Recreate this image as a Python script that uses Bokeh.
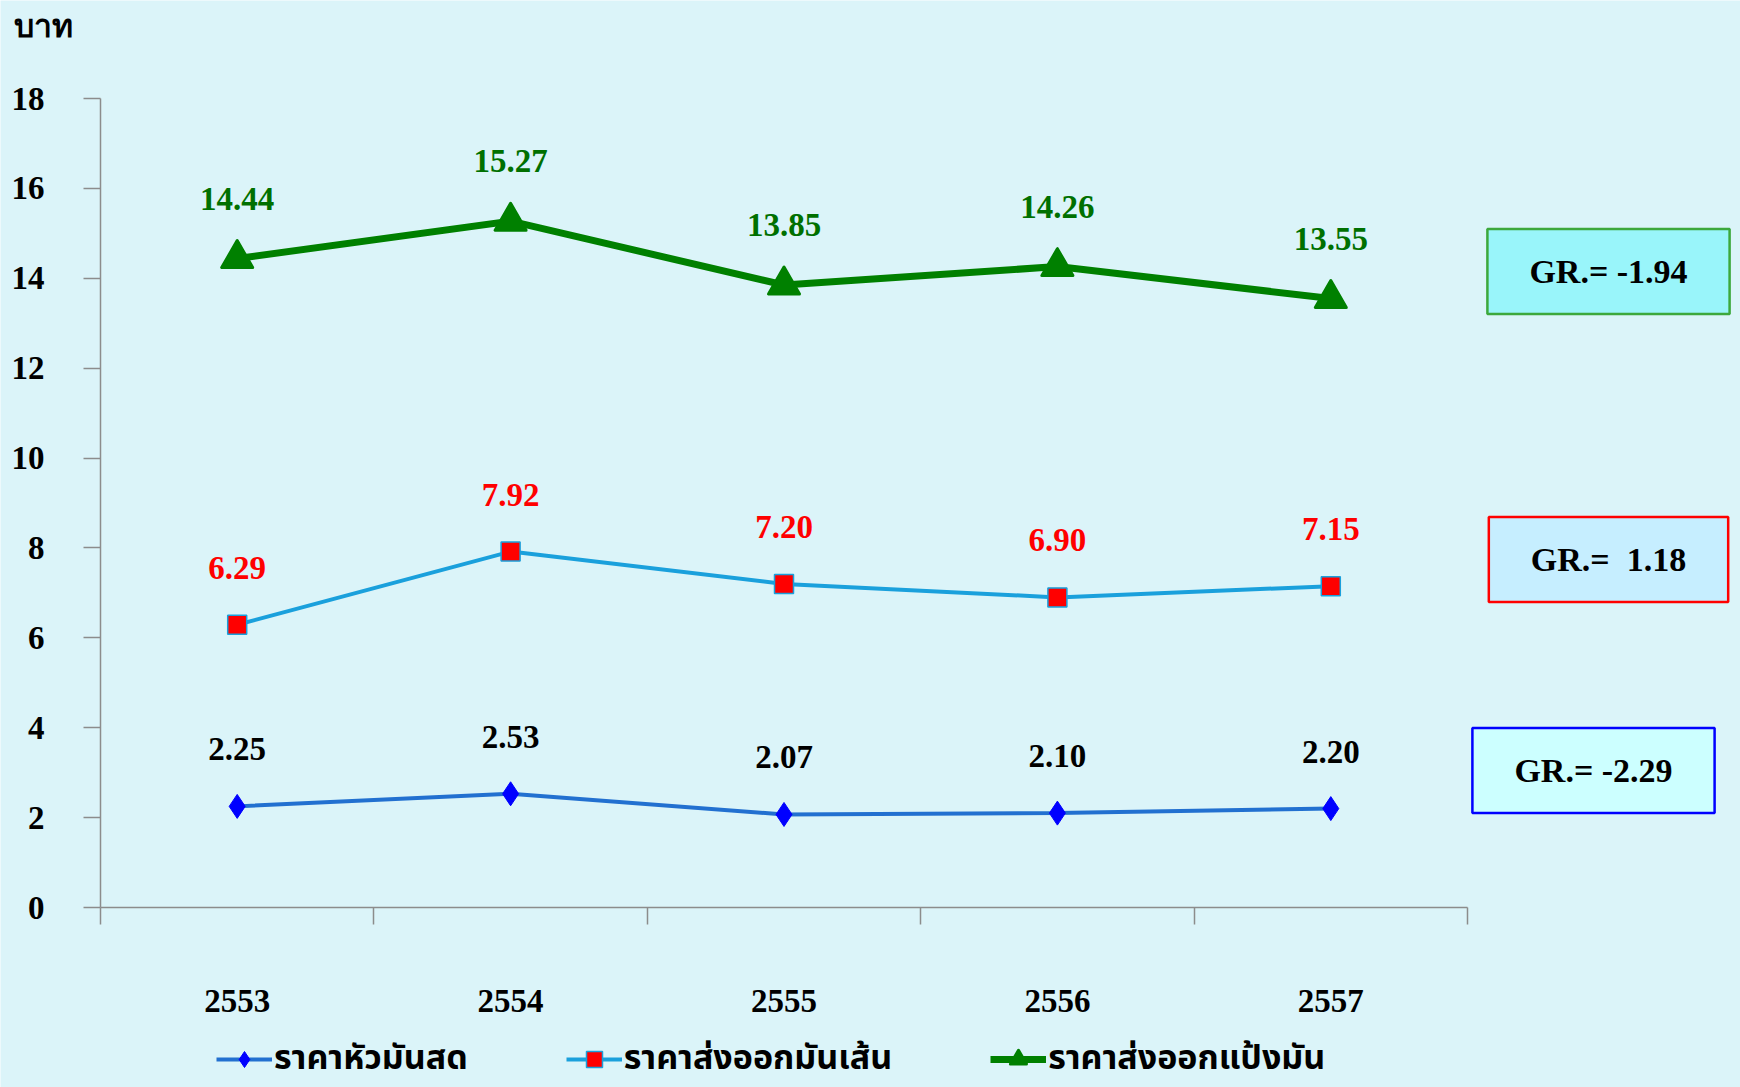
from bokeh.plotting import figure
from bokeh.models import (Range1d, LinearAxis, FixedTicker,
                          ColumnDataSource, Label, Legend, LegendItem)
from bokeh.core.properties import value
from bokeh.embed import file_html
from bokeh.resources import INLINE

# ---------------- data ----------------
years = ["2553", "2554", "2555", "2556", "2557"]
fresh_price = [2.25, 2.53, 2.07, 2.10, 2.20]      # ราคาหัวมันสด
chips_price = [6.29, 7.92, 7.20, 6.90, 7.15]      # ราคาส่งออกมันเส้น
starch_price = [14.44, 15.27, 13.85, 14.26, 13.55]  # ราคาส่งออกแป้งมัน
series_names = ["ราคาหัวมันสด", "ราคาส่งออกมันเส้น", "ราคาส่งออกแป้งมัน"]
gr_fresh = "GR.= -2.29"
gr_chips = "GR.=\u00a0 1.18"
gr_starch = "GR.= -1.94"
y_ticks = [0, 2, 4, 6, 8, 10, 12, 14, 16, 18]
y_unit = "บาท"

BG = "#DBF4F9"
AXIS = "#8C8C8C"
SERIF = "Liberation Serif"
THAI = "'Noto Sans Thai', 'Noto Sans', 'DejaVu Sans', sans-serif"

W, H = 1740, 1087
# plot-area geometry (pixels): axes cross at (100, 907); one year slot = 273.4 px; 18 baht = 809 px
AX_X, AX_Y, SLOT_PX, UNIT_PX = 100, 907, 273.4, 809 / 18

n = len(years)
centers = [i + 0.5 for i in range(n)]
edges = list(range(n + 1))

p = figure(width=W, height=H,
           x_range=Range1d(-AX_X / SLOT_PX, (W - AX_X) / SLOT_PX),
           y_range=Range1d(-(H - AX_Y) / UNIT_PX, AX_Y / UNIT_PX),
           output_backend="svg", toolbar_location=None,
           x_axis_location=None, y_axis_location=None,
           background_fill_color=BG, border_fill_color=BG, outline_line_color=None,
           min_border=0)
p.xgrid.visible = False
p.ygrid.visible = False

# y axis (fixed at x = 0)
yax = LinearAxis(ticker=FixedTicker(ticks=y_ticks, minor_ticks=[]), bounds=(0, 18),
                 fixed_location=0,
                 axis_line_color=AXIS, axis_line_width=1.5,
                 major_tick_line_color=AXIS, major_tick_line_width=1.5,
                 major_tick_in=0, major_tick_out=17, minor_tick_line_color=None,
                 major_label_standoff=39,
                 major_label_text_font=SERIF, major_label_text_font_style="bold",
                 major_label_text_font_size="33px", major_label_text_color="black")
p.add_layout(yax, "left")

# x axis (fixed at y = 0): labels at slot centres, tick marks at slot boundaries
xax = LinearAxis(ticker=FixedTicker(ticks=centers, minor_ticks=edges), bounds=(0, n),
                 fixed_location=0,
                 major_label_overrides={c: y for c, y in zip(centers, years)},
                 axis_line_color=AXIS, axis_line_width=1.5,
                 major_tick_line_color=None, major_tick_in=0, major_tick_out=0,
                 minor_tick_line_color=AXIS, minor_tick_line_width=1.5,
                 minor_tick_in=0, minor_tick_out=17,
                 major_label_standoff=65,
                 major_label_text_font=SERIF, major_label_text_font_style="bold",
                 major_label_text_font_size="33px", major_label_text_color="black")
p.add_layout(xax, "below")

src = ColumnDataSource(dict(
    x=centers, fresh=fresh_price, chips=chips_price, starch=starch_price,
    fresh_lbl=[f"{v:.2f}" for v in fresh_price],
    chips_lbl=[f"{v:.2f}" for v in chips_price],
    starch_lbl=[f"{v:.2f}" for v in starch_price],
))

l1 = p.line("x", "fresh", source=src, line_color="#2270D0", line_width=4)
s1 = p.scatter("x", "fresh", source=src, marker="diamond", size=24,
               fill_color="#0000FF", line_color="#0000FF")
l2 = p.line("x", "chips", source=src, line_color="#1AA0DC", line_width=4)
s2 = p.scatter("x", "chips", source=src, marker="square", size=19,
               fill_color="#FF0000", line_color="#1AA0DC", line_width=1.5)
l3 = p.line("x", "starch", source=src, line_color="#008000", line_width=7)
s3 = p.scatter("x", "starch", source=src, marker="triangle", size=31,
               fill_color="#008000", line_color="#008000", line_width=3, line_join="round")

for col, color, off in (("fresh", "black", -57), ("chips", "#FF0000", -57), ("starch", "#007000", -60)):
    p.text(x="x", y=col, text=col + "_lbl", source=src,
           text_align="center", text_baseline="middle", y_offset=off,
           text_font=value(SERIF), text_font_style="bold", text_font_size="33px",
           text_color=color)

# unit label (screen units from the bottom-left corner)
p.add_layout(Label(x=13, y=H - 25, x_units="screen", y_units="screen", text=y_unit,
                   text_font=SERIF, text_font_style="bold", text_font_size="32px",
                   text_baseline="alphabetic", text_align="left", text_color="black"))

# GR boxes
for txt, cx, cy, fill, border in ((gr_starch, 1608, H - 271, "#99F5FA", "#3CA83C"),
                                  (gr_chips, 1608, H - 559, "#C6EEFF", "#FF0000"),
                                  (gr_fresh, 1593, H - 770, "#CCFFFF", "#0000FF")):
    p.add_layout(Label(x=cx, y=cy, x_units="screen", y_units="screen", text=txt,
                       text_font=SERIF, text_font_style="bold", text_font_size="34px",
                       text_align="center", text_baseline="middle", text_color="black",
                       background_fill_color=fill, border_line_color=border,
                       border_line_width=2.5, padding=(42, 24)))

legend = Legend(items=[LegendItem(label=series_names[0], renderers=[l1, s1]),
                       LegendItem(label=series_names[1], renderers=[l2, s2]),
                       LegendItem(label=series_names[2], renderers=[l3, s3])],
                orientation="horizontal", location=(216, 3),
                background_fill_alpha=0, border_line_color=None, padding=0, margin=0,
                spacing=98, glyph_width=56, glyph_height=40, label_height=40, label_standoff=2,
                label_text_font=THAI, label_text_font_size="34px", label_text_font_style="bold",
                label_text_color="black")
p.add_layout(legend)

open("out.html", "w").write(file_html(p, INLINE))
